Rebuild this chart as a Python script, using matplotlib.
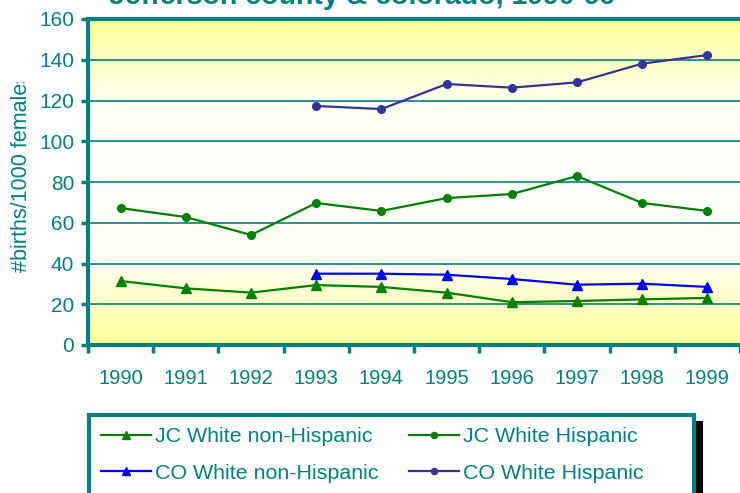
import numpy as np
import matplotlib
matplotlib.use("Agg")
import matplotlib.pyplot as plt
from matplotlib.colors import LinearSegmentedColormap
from matplotlib.patches import Rectangle

plt.rcParams['font.family'] = ['Liberation Sans', 'DejaVu Sans']

years = ['1990', '1991', '1992', '1993', '1994', '1995', '1996', '1997', '1998', '1999']
jc_white_non_hisp = [31.4, 27.8, 25.7, 29.4, 28.5, 25.7, 21.0, 21.6, 22.4, 23.1]
jc_white_hisp = [67.2, 62.8, 54.0, 69.7, 65.8, 72.1, 74.1, 82.9, 69.7, 65.8]
co_white_non_hisp = [None, None, None, 35.0, 35.0, 34.5, 32.4, 29.6, 30.1, 28.5]
co_white_hisp = [None, None, None, 117.3, 115.8, 128.1, 126.3, 128.9, 138.1, 142.3]
y_ticks = [0, 20, 40, 60, 80, 100, 120, 140, 160]

TEAL = '#008080'

def arr(v):
    return np.array([np.nan if x is None else x for x in v], dtype=float)

fig = plt.figure(figsize=(7.4, 4.93), dpi=100)
ax = fig.add_axes([88/740, 1-345/493, 1-88/740, (345-19)/493])

x = np.arange(len(years))

# gradient background
cmap = LinearSegmentedColormap.from_list('bg', ['#FFFF99', '#FFFFF0', '#FFFFFF', '#FFFFF0', '#FFFF99'])
grad = np.linspace(0, 1, 256).reshape(-1, 1)
ax.imshow(grad, extent=[0, 1, 0, 1], transform=ax.transAxes, aspect='auto',
          cmap=cmap, zorder=0, origin='lower')

for t in y_ticks[1:-1]:
    ax.axhline(t, color=TEAL, lw=1.2, zorder=1)

h1, = ax.plot(x, arr(jc_white_non_hisp), color='#008000', lw=1.6, marker='^', ms=6.5,
              label='JC White non-Hispanic', zorder=3)
h2, = ax.plot(x, arr(jc_white_hisp), color='#008000', lw=1.6, marker='o', ms=5.5,
              label='JC White Hispanic', zorder=3)
h3, = ax.plot(x, arr(co_white_non_hisp), color='#0000FF', lw=1.6, marker='^', ms=6.5,
              label='CO White non-Hispanic', zorder=3)
h4, = ax.plot(x, arr(co_white_hisp), color='#333399', lw=1.6, marker='o', ms=5.5,
              label='CO White Hispanic', zorder=3)

ax.set_xlim(-0.5, 9.5)
ax.set_ylim(0, 160)
ax.set_yticks(y_ticks)
ax.set_yticklabels([str(t) for t in y_ticks], color=TEAL, fontsize=15)
ax.set_xticks(np.arange(-0.5, 10, 1), minor=False)
ax.set_xticklabels([])
ax.set_xticks(x, minor=True)
ax.set_xticklabels(years, minor=True, fontsize=14.5, color=TEAL)
ax.tick_params(axis='x', which='minor', length=0, pad=17)
ax.tick_params(axis='x', which='major', length=6, width=2.5, color=TEAL, direction='out')
ax.tick_params(axis='y', length=5, width=2.5, color=TEAL, direction='out', pad=5)

for s in ['left', 'bottom', 'top']:
    ax.spines[s].set_color(TEAL)
    ax.spines[s].set_linewidth(3)
ax.spines['right'].set_visible(False)

# y label, clipped at its top as in the original
ylab = fig.text(22/740, 1-172/493, '#births/1000 females', color=TEAL, fontsize=15.5,
                rotation=90, ha='center', va='center')
clip = Rectangle((0, 0), 80/740, 1-82/493, transform=fig.transFigure,
                 facecolor='none', edgecolor='none')
fig.patches.append(clip)
ylab.set_clip_path(clip)

fig.text(0.49, 1-4/493, 'Jefferson county & colorado, 1990-99', color=TEAL,
         fontsize=20.5, fontweight='bold', ha='center', va='baseline')

# legend frame with shadow
shadow = Rectangle((97/740, -0.1), (703-97)/740, (0.1 + 1-421/493),
                   transform=fig.transFigure, facecolor='black', edgecolor='none', zorder=1)
frame = Rectangle((89/740, -0.1), (694-89)/740, (0.1 + 1-415/493),
                  transform=fig.transFigure, facecolor='white', edgecolor=TEAL, lw=3, zorder=2)
fig.patches.extend([shadow, frame])

leg = fig.legend([h1, h3, h2, h4],
                 [h1.get_label(), h3.get_label(), h2.get_label(), h4.get_label()],
                 loc='upper left', bbox_to_anchor=(101/740, 1-427/493), ncol=2,
                 frameon=False, fontsize=15.4, handlelength=2.34, columnspacing=1.4,
                 labelspacing=0.83, handletextpad=0.2, labelcolor=TEAL, markerscale=0.8,
                 borderpad=0, borderaxespad=0)
leg.set_zorder(5)

fig.savefig('out.png', dpi=100)
